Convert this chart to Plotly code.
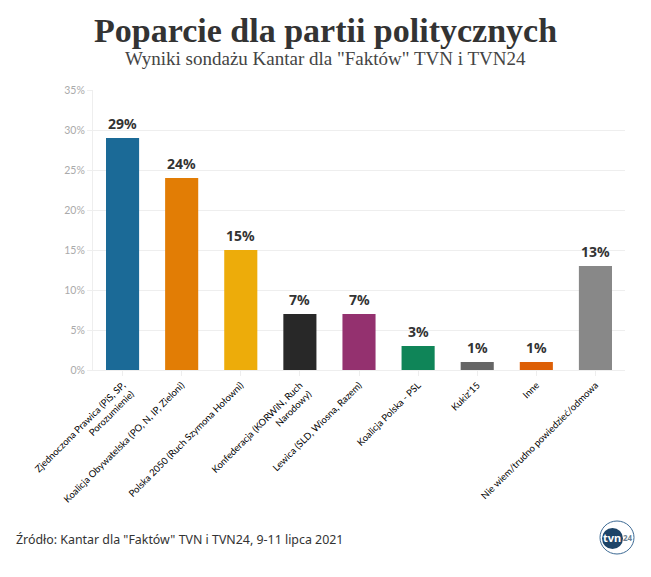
import plotly.graph_objects as go

categories = [
    "Zjednoczona Prawica (PiS, SP,<br>Porozumienie)",
    "Koalicja Obywatelska (PO, N, IP, Zieloni)",
    "Polska 2050 (Ruch Szymona Hołowni)",
    "Konfederacja (KORWiN, Ruch<br>Narodowy)",
    "Lewica (SLD, Wiosna, Razem)",
    "Koalicja Polska - PSL",
    "Kukiz'15",
    "Inne",
    "Nie wiem/trudno powiedzieć/odmowa",
]
values = [29, 24, 15, 7, 7, 3, 1, 1, 13]
colors = ["#1b6a97", "#e27d05", "#edac0a", "#282828", "#94316f", "#0f8558", "#666666", "#dd5f06", "#888888"]
labels = ["29%", "24%", "15%", "7%", "7%", "3%", "1%", "1%", "13%"]
y_ticks = [0, 5, 10, 15, 20, 25, 30, 35]
y_ticktext = ["0%", "5%", "10%", "15%", "20%", "25%", "30%", "35%"]

OFF = 8
W, H = 651 - 2 * OFF, 577 - 2 * OFF
L, R, T, B = 93 - OFF, 625 - OFF, 90 - OFF, 370 - OFF

def px(x):
    return (x - OFF - L) / (R - L)

def py(y):
    return (B - (y - OFF)) / (B - T)

fig = go.Figure(go.Bar(
    x=categories, y=values, marker=dict(color=colors, line=dict(width=0)),
    width=0.56,
))
value_labels = [
    dict(text=f"<b>{t}</b>", x=c, y=v, xref="x", yref="y", showarrow=False,
         xanchor="center", yanchor="bottom", yshift=3.5,
         font=dict(family="Noto Sans", size=14, color="#333333"))
    for c, v, t in zip(categories, values, labels)
]
fig.update_layout(
    width=W, height=H, autosize=False, paper_bgcolor="white", plot_bgcolor="white",
    margin=dict(l=L, r=W - R, t=T, b=H - B), showlegend=False,
    font=dict(family="Lato"),
    xaxis=dict(tickangle=-45, tickfont=dict(family="Lato", size=9.5, color="#000000"),
               ticks="outside", ticklen=5, tickcolor="#eeeeee", showgrid=False,
               showline=True, linecolor="#eeeeee", linewidth=1),
    yaxis=dict(range=[0, 35], tickvals=y_ticks, ticktext=y_ticktext,
               tickfont=dict(family="Lato", size=10.5, color="#aaaaaa"),
               ticks="outside", ticklen=5, tickcolor="#eeeeee",
               gridcolor="#eeeeee", gridwidth=1, zeroline=False,
               showline=True, linecolor="#eeeeee", linewidth=1),
    annotations=value_labels + [
        dict(text="<b>Poparcie dla partii politycznych</b>", x=px(325.5), y=py(30), xref="paper", yref="paper",
             showarrow=False, xanchor="center", yanchor="middle",
             font=dict(family="Liberation Serif", size=34, color="#333333")),
        dict(text='Wyniki sondażu Kantar dla "Faktów" TVN i TVN24', x=px(325.5), y=py(59), xref="paper", yref="paper",
             showarrow=False, xanchor="center", yanchor="middle",
             font=dict(family="Liberation Serif", size=19, color="#444444")),
        dict(text='Źródło: Kantar dla "Faktów" TVN i TVN24, 9-11 lipca 2021', x=px(14), y=py(539), xref="paper", yref="paper",
             showarrow=False, xanchor="left", yanchor="middle",
             font=dict(family="Noto Sans", size=12.4, color="#333333")),
        dict(text="<b>tvn</b>", x=px(612), y=py(537), xref="paper", yref="paper", showarrow=False,
             xanchor="center", yanchor="middle", font=dict(family="Noto Sans", size=11, color="white")),
        dict(text="<b>24</b>", x=px(628), y=py(537), xref="paper", yref="paper", showarrow=False,
             xanchor="center", yanchor="middle", font=dict(family="Noto Sans", size=8, color="#6d7f92")),
    ],
    shapes=[
        dict(type="circle", xref="paper", yref="paper", x0=px(602), x1=px(623), y0=py(549), y1=py(528),
             fillcolor="#1d4468", line=dict(width=0)),
        dict(type="circle", xref="paper", yref="paper", x0=px(600), x1=px(634), y0=py(554), y1=py(521),
             fillcolor="rgba(0,0,0,0)", line=dict(width=1, color="#3d6a94")),
    ],
)
fig.write_html("out.html")
